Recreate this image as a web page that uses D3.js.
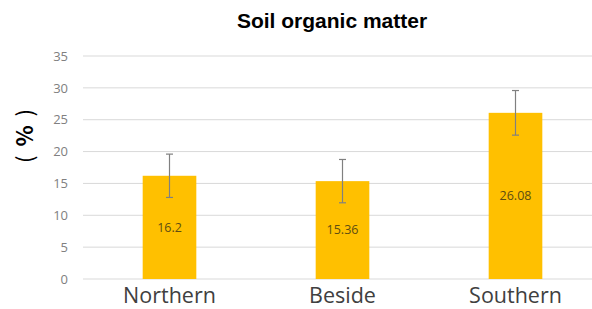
<!DOCTYPE html>
<html lang="en">
  <head>
    <meta charset="utf-8">
    <title>Soil organic matter</title>
    <script src="https://d3js.org/d3.v7.min.js"></script>
    <style>
      body { margin: 0; background: #fff; }
    </style>
  </head>
  <body>
    <div id="chart"></div>
    <script type="text/javascript">
    // data
    var sites = ["Northern", "Beside", "Southern"];
    var organic = [16.2, 15.36, 26.08];
    var errs = [3.4, 3.4, 3.5];
    var labels = ["16.2", "15.36", "26.08"];
    var yTicks = [0, 5, 10, 15, 20, 25, 30, 35];

    var width = 592, height = 309;
    var margin = {top: 56, right: -10, bottom: 30, left: 83};

    var svg = d3.select("#chart").append("svg")
      .attr("width", width)
      .attr("height", height);

    var x = d3.scaleBand()
      .domain(sites)
      .range([margin.left, width - margin.right])
      .paddingInner(0.69)
      .paddingOuter(0.345);

    var y = d3.scaleLinear()
      .domain([0, 35])
      .range([height - margin.bottom, margin.top]);

    // grid lines
    svg.append("g")
      .selectAll("line")
      .data(yTicks)
      .enter().append("line")
      .attr("x1", margin.left)
      .attr("x2", width)
      .attr("y1", function(d) { return y(d); })
      .attr("y2", function(d) { return y(d); })
      .attr("stroke", "#d9d9d9")
      .attr("stroke-width", 1);

    // y axis labels
    var yAxis = svg.append("g")
      .attr("transform", "translate(" + (margin.left - 9) + ",0)")
      .call(d3.axisLeft(y).tickValues(yTicks).tickSize(0).tickPadding(6));
    yAxis.select(".domain").remove();
    yAxis.selectAll("text")
      .attr("fill", "#808080")
      .style("font-family", "'Open Sans', sans-serif")
      .style("font-size", "13px");

    // bars
    svg.append("g")
      .selectAll("rect")
      .data(sites)
      .enter().append("rect")
      .attr("x", function(d) { return x(d); })
      .attr("width", x.bandwidth())
      .attr("y", function(d, i) { return y(organic[i]); })
      .attr("height", function(d, i) { return y(0) - y(organic[i]); })
      .attr("fill", "#ffc000");

    // error bars
    var eb = svg.append("g").attr("stroke", "#808080").attr("stroke-width", 1.2);
    sites.forEach(function(s, i) {
      var cx = x(s) + x.bandwidth() / 2;
      var hi = y(organic[i] + errs[i]), lo = y(organic[i] - errs[i]);
      eb.append("line").attr("x1", cx).attr("x2", cx).attr("y1", hi).attr("y2", lo);
      eb.append("line").attr("x1", cx - 3.5).attr("x2", cx + 3.5).attr("y1", hi).attr("y2", hi);
      eb.append("line").attr("x1", cx - 3.5).attr("x2", cx + 3.5).attr("y1", lo).attr("y2", lo);
    });

    // value labels in middle of bars
    svg.append("g")
      .selectAll("text")
      .data(sites)
      .enter().append("text")
      .attr("x", function(d) { return x(d) + x.bandwidth() / 2; })
      .attr("y", function(d, i) { return (y(organic[i]) + y(0)) / 2; })
      .attr("dy", "0.35em")
      .attr("text-anchor", "middle")
      .attr("fill", "#5e4d12")
      .style("font-family", "'Open Sans', sans-serif")
      .style("font-size", "12.5px")
      .text(function(d, i) { return labels[i]; });

    // x labels
    svg.append("g")
      .selectAll("text")
      .data(sites)
      .enter().append("text")
      .attr("x", function(d) { return x(d) + x.bandwidth() / 2; })
      .attr("y", 303)
      .attr("text-anchor", "middle")
      .attr("fill", "#404040")
      .style("font-family", "'Open Sans', sans-serif")
      .style("font-size", "21.5px")
      .text(function(d) { return d; });

    // title
    svg.append("text")
      .attr("x", 332)
      .attr("y", 28)
      .attr("text-anchor", "middle")
      .attr("fill", "#000")
      .style("font-family", "'Liberation Sans', Arial, sans-serif")
      .style("font-weight", "bold")
      .style("font-size", "21px")
      .text("Soil organic matter");

    // y axis title
    var yt = svg.append("text")
      .attr("transform", "translate(33,135) rotate(-90)")
      .attr("text-anchor", "middle")
      .attr("fill", "#000")
      .style("font-family", "'Noto Sans CJK SC', sans-serif")
      .style("font-size", "22px")
      .style("letter-spacing", "2px");
    yt.append("tspan").text("( ");
    yt.append("tspan").style("font-weight", "bold").text("%");
    yt.append("tspan").text(" )");
    </script>
  </body>
</html>
